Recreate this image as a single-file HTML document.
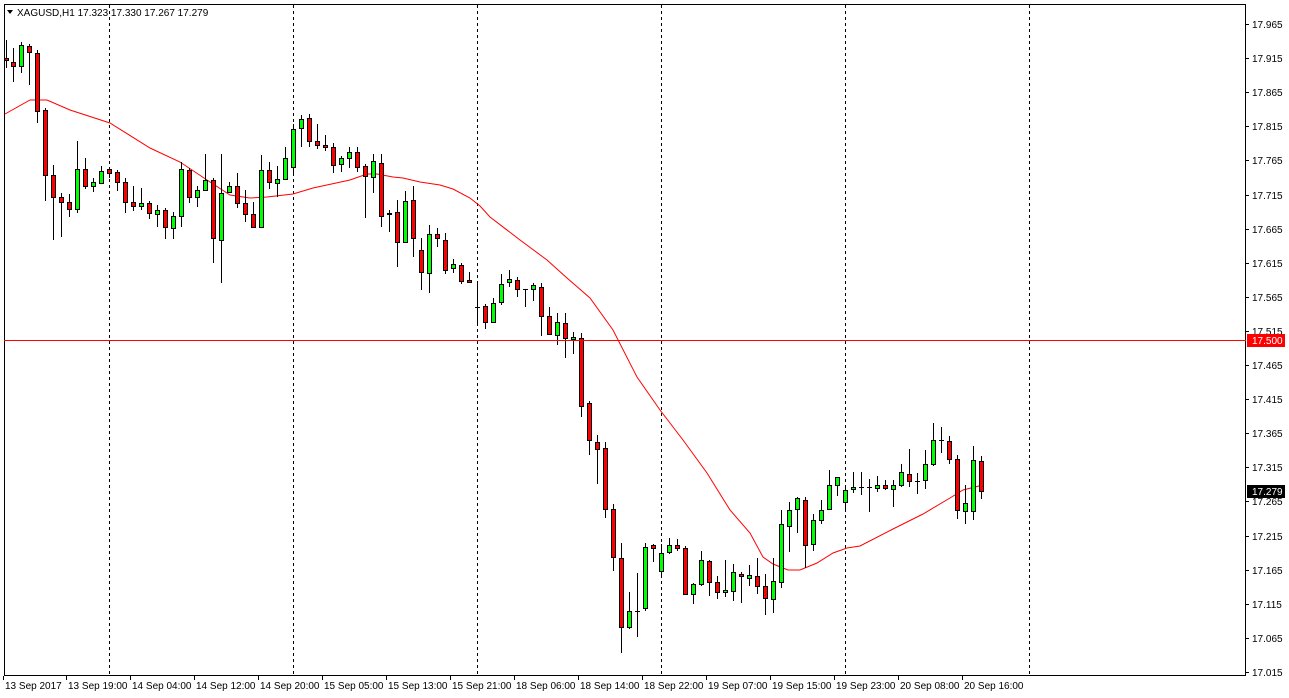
<!DOCTYPE html>
<html><head><meta charset="utf-8">
<style>
html,body{margin:0;padding:0;background:#fff;}
svg{display:block;font-family:"Liberation Sans",sans-serif;font-size:10px;}
</style></head>
<body>
<svg id="c" width="1289" height="698" xmlns="http://www.w3.org/2000/svg">
<rect x="0" y="0" width="1289" height="698" fill="#fff"/>
<rect x="4.5" y="4.5" width="1241" height="671" fill="none" stroke="#000"/>
<g id="grid" stroke="#000" stroke-dasharray="3,3"></g>
<polyline id="ma" fill="none" stroke="#f00" stroke-width="1"/>
<g id="cand"></g>
<rect x="4" y="340" width="1242" height="1" fill="#ff0000"/>
<g id="yl" fill="#000"></g>
<g id="xl" fill="#000">
<text x="5" y="689">13 Sep 2017</text>
<text x="68" y="689">13 Sep 19:00</text>
<text x="132" y="689">14 Sep 04:00</text>
<text x="196" y="689">14 Sep 12:00</text>
<text x="260" y="689">14 Sep 20:00</text>
<text x="324" y="689">15 Sep 05:00</text>
<text x="388" y="689">15 Sep 13:00</text>
<text x="452" y="689">15 Sep 21:00</text>
<text x="516" y="689">18 Sep 06:00</text>
<text x="580" y="689">18 Sep 14:00</text>
<text x="644" y="689">18 Sep 22:00</text>
<text x="708" y="689">19 Sep 07:00</text>
<text x="772" y="689">19 Sep 15:00</text>
<text x="836" y="689">19 Sep 23:00</text>
<text x="900" y="689">20 Sep 08:00</text>
<text x="964" y="689">20 Sep 16:00</text>
</g>
<polygon points="7,10 13,10 10,14" fill="#000"/>
<text x="17" y="16">XAGUSD,H1  17.323 17.330 17.267 17.279</text>
<rect x="1247" y="334" width="38" height="13" fill="#f00"/>
<text x="1252" y="344" fill="#fff">17.500</text>
<rect x="1247" y="485" width="38" height="13" fill="#000"/>
<text x="1252" y="495" fill="#fff">17.279</text>
</svg>
<script>
var NS="http://www.w3.org/2000/svg";
function el(t,a,p){var e=document.createElementNS(NS,t);for(var k in a)e.setAttribute(k,a[k]);p.appendChild(e);return e;}
var g=document.getElementById('grid');
[109,293,477,661,845,1029].forEach(function(x){el('line',{x1:x+.5,y1:5,x2:x+.5,y2:675},g);});
var yl=document.getElementById('yl');
for(var k=0;k<20;k++){var v=(17.965-k*0.05).toFixed(3);var y=24+k*34.1;
 if(Math.abs(y-341)<6)continue;
 el('line',{x1:1245,y1:Math.round(y)+.5,x2:1249,y2:Math.round(y)+.5,stroke:'#000'},yl);
 var t=el('text',{x:1252,y:Math.round(y)+4},yl);t.textContent=v;}
var xl=document.getElementById('xl');
[5,68,132,196,260,324,388,452,516,580,644,708,772,836,900,964].forEach(function(x){el('line',{x1:x-1.5,y1:676,x2:x-1.5,y2:680,stroke:'#000'},xl);});
var D=[
[58,60,40,68,'r'],[62,66,48,82,'r'],[45,66,42,73,'g'],[46,52,44,85,'r'],[53,111,50,123,'r'],[110,175,108,201,'r'],[175,197,165,240,'r'],[197,202,193,237,'r'],[202,209,194,217,'r'],[169,209,141,213,'g'],
[169,186,158,189,'r'],[182,186,178,192,'g'],[171,183,166,183,'g'],[169,173,167,178,'r'],[172,182,170,191,'r'],[182,202,178,213,'r'],[202,206,186,211,'r'],[203,206,188,210,'g'],[203,213,201,219,'r'],[210,214,205,227,'g'],
[210,227,208,239,'r'],[216,228,212,239,'g'],[169,216,162,227,'g'],[170,197,168,203,'r'],[190,197,186,207,'g'],[180,190,154,190,'g'],[180,238,178,263,'r'],[193,240,154,283,'g'],[186,192,182,192,'g'],[186,203,173,208,'r'],
[203,214,190,222,'r'],[214,227,202,227,'r'],[170,227,155,227,'g'],[170,182,162,189,'r'],[179,183,166,197,'g'],[158,179,147,179,'g'],[129,167,124,174,'g'],[119,128,115,147,'g'],[118,141,114,147,'r'],[141,145,124,149,'r'],
[145,147,135,151,'r'],[147,165,143,173,'r'],[158,164,156,172,'g'],[152,158,147,168,'g'],[152,167,147,172,'r'],[166,176,164,218,'r'],[161,177,154,193,'g'],[163,216,154,227,'r'],[213,214,210,232,'g'],[212,242,200,267,'r'],
[201,242,191,243,'g'],[200,238,186,257,'r'],[250,272,238,290,'r'],[234,273,225,293,'g'],[234,238,228,247,'r'],[240,270,233,274,'r'],[264,268,259,273,'g'],[265,281,263,284,'r'],[280,282,272,282,'r'],[307,307,284,325,'d'],
[306,322,304,329,'r'],[303,322,298,322,'g'],[284,302,274,305,'g'],[279,282,270,287,'g'],[280,289,277,297,'r'],[289,289,289,307,'d'],[285,289,283,301,'g'],[287,316,283,336,'r'],[316,334,307,334,'r'],[322,335,313,345,'g'],
[323,338,313,358,'r'],[337,339,332,354,'g'],[338,406,333,417,'r'],[403,440,401,455,'r'],[442,449,435,484,'r'],[448,509,442,518,'r'],[509,557,504,571,'r'],[558,627,543,653,'r'],[611,627,592,629,'g'],[611,611,573,637,'d'],
[547,608,543,611,'g'],[545,548,544,562,'r'],[553,571,544,577,'g'],[545,552,538,554,'g'],[545,548,539,551,'r'],[548,594,546,594,'r'],[584,594,583,604,'g'],[560,584,551,586,'g'],[561,582,560,596,'r'],[582,592,576,599,'r'],
[590,592,560,597,'g'],[572,591,564,601,'g'],[574,576,572,603,'r'],[575,578,565,586,'g'],[576,586,558,594,'r'],[586,598,574,615,'r'],[581,599,558,613,'g'],[524,582,510,588,'g'],[510,526,502,552,'g'],[498,509,497,533,'g'],
[500,545,497,568,'r'],[520,544,514,551,'g'],[510,520,500,524,'g'],[485,509,470,509,'g'],[477,485,477,496,'g'],[490,502,485,510,'g'],[487,489,472,493,'g'],[487,488,472,495,'d'],[487,487,479,512,'d'],[485,488,476,492,'g'],
[485,488,480,490,'r'],[485,489,480,507,'g'],[472,485,464,487,'g'],[474,481,449,487,'r'],[481,481,473,494,'d'],[464,480,450,489,'g'],[440,464,423,466,'g'],[440,440,427,453,'d'],[441,459,436,464,'r'],[459,510,455,519,'r'],
[503,511,485,524,'g'],[460,511,446,520,'g'],[461,491,456,499,'r']];
var cg=document.getElementById('cand');
D.forEach(function(d,i){var x=5+8*i;if(x<6)x=6;
 el('line',{x1:x+.5,y1:d[2],x2:x+.5,y2:d[3],stroke:'#000'},cg);
 if(d[4]=='d'||d[1]-d[0]<1){el('line',{x1:x-2,y1:d[0]+.5,x2:x+3,y2:d[0]+.5,stroke:'#000'},cg);}
 else el('rect',{x:x-1.5,y:d[0]+.5,width:4,height:d[1]-d[0],fill:d[4]=='r'?'#f00':'#0f0',stroke:'#000'},cg);
});
var M=[[5,114],[30,100],[47,100],[70,110],[110,123],[150,148],[180,162],[207,180],[230,195],[250,198],[267,197],[293,194],[313,188],[350,180],[367,174],[377,174],[393,177],[403,178],[420,182],[440,185],[453,189],[470,198],[480,206],[490,217],[520,240],[547,260],[567,278],[590,298],[613,330],[637,377],[660,410],[683,440],[707,473],[730,510],[750,533],[763,557],[773,564],[788,570],[800,570],[817,563],[833,553],[847,548],[860,546],[893,529],[923,514],[950,498],[963,490],[983,485]];
document.getElementById('ma').setAttribute('points',M.map(function(p){return p.join(',')}).join(' '));
</script>
</body></html>
